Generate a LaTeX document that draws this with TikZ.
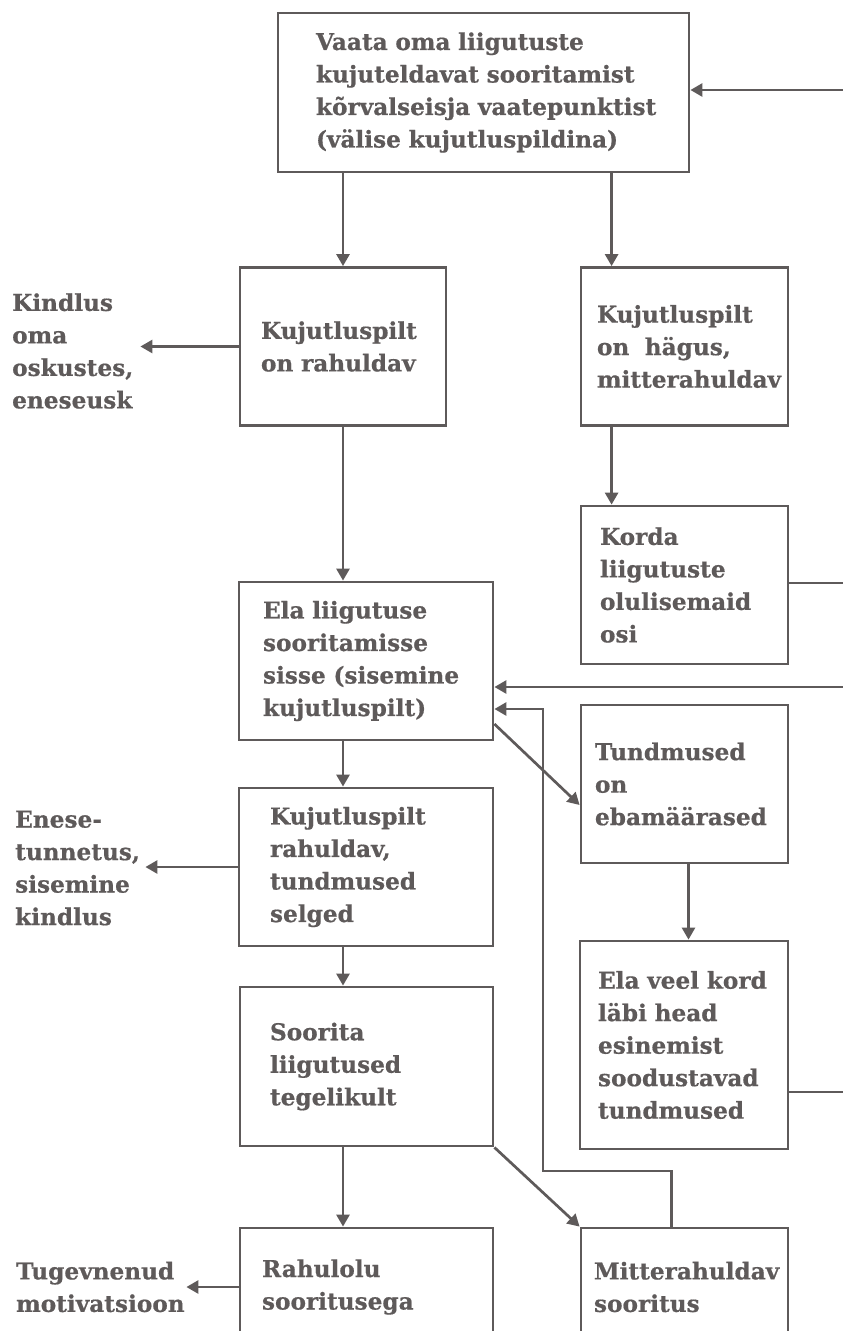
\documentclass[tikz,border=0pt]{standalone}
\usepackage{fontspec}
\setmainfont{DejaVu Serif}[BoldFeatures={FakeBold=0.6}]
\usetikzlibrary{arrows.meta}
\definecolor{ink}{RGB}{94,90,90}
\hyphenpenalty=10000
\exhyphenpenalty=10000
\hbadness=10000
\hfuzz=60pt
\begin{document}
\begin{tikzpicture}[x=1pt,y=-1pt,
  every node/.style={text=ink, font=\bfseries\fontsize{23.2}{32.5}\selectfont},
  box/.style={draw=ink, line width=2.8pt, align=left, inner ysep=0pt, minimum height=158pt},
  side/.style={align=left, inner sep=0pt, anchor=west},
  link/.style={draw=ink, line width=2.7pt},
  flow/.style={link, -{Triangle[length=12pt,width=13pt]}}]
\useasboundingbox (0,0) rectangle (843,1331);

% boxes of the flow chart
\node[box, text width=335pt, inner xsep=38pt, minimum height=159pt] (top) at (483.5,92.5)
  {Vaata~oma~liigutuste\\kujuteldavat~sooritamist\\kõrvalseisja~vaatepunktist\\(välise~kujutluspildina)};
\node[box, text width=164pt, inner xsep=21pt] (B2) at (343,346.5) {Kujutluspilt\\on rahuldav};
\node[box, text width=175pt, inner xsep=16pt] (B3) at (684.5,346.5) {Kujutluspilt\\on\ \ hägus,\\mitterahuldav};
\node[box, text width=169pt, inner xsep=19pt] (B4) at (684.5,585) {Korda\\liigutuste\\olulisemaid\\osi};
\node[box, text width=206pt, inner xsep=24pt] (B5) at (366,661) {Ela liigutuse\\sooritamisse\\sisse (sisemine\\kujutluspilt)};
\node[box, text width=179pt, inner xsep=14pt] (B6) at (684.5,784) {Tundmused\\on\\ebamäärased};
\node[box, text width=172pt, inner xsep=18pt, minimum height=208pt] (B7) at (684,1045)
  {Ela veel kord\\läbi head\\esinemist\\soodustavad\\tundmused};
\node[box, text width=192pt, inner xsep=31pt] (B8) at (366,867) {Kujutluspilt\\rahuldav,\\tundmused\\selged};
\node[box, text width=193pt, inner xsep=30pt, minimum height=159pt] (B9) at (366.5,1066.5) {Soorita\\liigutused\\tegelikult};
\node[box, text width=209pt, inner xsep=22pt, minimum height=118pt] (B10) at (366.5,1287) {Rahulolu\\sooritusega};
\node[box, text width=181pt, inner xsep=13pt, minimum height=118pt] (B11) at (684.5,1287) {Mitterahuldav\\sooritus};

% outcomes on the left
\node[side, text width=128pt] (K1) at (12,351) {Kindlus\\oma\\oskustes,\\eneseusk};
\node[side, text width=130pt] (K2) at (15,868) {Enese-\\tunnetus,\\sisemine\\kindlus};
\node[side, text width=170pt] (K3) at (16,1287) {Tugevnenud\\motivatsioon};

% free ends at the right margin
\coordinate (e1) at (843,90);
\coordinate (e2) at (843,583);
\coordinate (e3) at (843,687);
\coordinate (e4) at (843,1092);
\coordinate (r1) at ([xshift=32pt]B3.north west);
\coordinate (fs) at ([xshift=92pt]B11.north west);
\coordinate (fb1) at (543,1171);
\coordinate (fb2) at (543,709);

% main column
\draw[flow] (top.south -| B2.north) -- (B2.north);
\draw[flow] (B2.south) -- (B2.south |- B5.north);
\draw[flow] (B2.south |- B5.south) -- (B2.south |- B8.north);
\draw[flow] (B2.south |- B8.south) -- (B2.south |- B9.north);
\draw[flow] (B2.south |- B9.south) -- (B2.south |- B10.north);

% right column
\draw[flow] (r1 |- top.south) -- (r1);
\draw[flow] (r1 |- B3.south) -- (r1 |- B4.north);
\draw[flow] ([xshift=4pt]B6.south) -- ([xshift=4pt]B6.south |- B7.north);

% arrows to the outcomes
\draw[flow] (B2.west) -- (B2.west -| K1.east);
\draw[flow] (B8.west) -- (B8.west -| K2.east);
\draw[flow] (B10.west) -- (B10.west -| K3.east);

% cross links
\draw[flow] ([yshift=-63pt]B5.east) -- ([yshift=-21pt]B6.west);
\draw[flow] (B9.south east) -- (B11.north west);
\draw[flow] (fs) |- (fb1) -- (fb2) -- (fb2 -| B5.east);

% returns from the right margin
\draw[flow] (e1) -- (e1 -| top.east);
\draw[link] (e2 -| B4.east) -- (e2);
\draw[flow] (e3) -- (e3 -| B5.east);
\draw[link] (e4 -| B7.east) -- (e4);
\end{tikzpicture}
\end{document}
